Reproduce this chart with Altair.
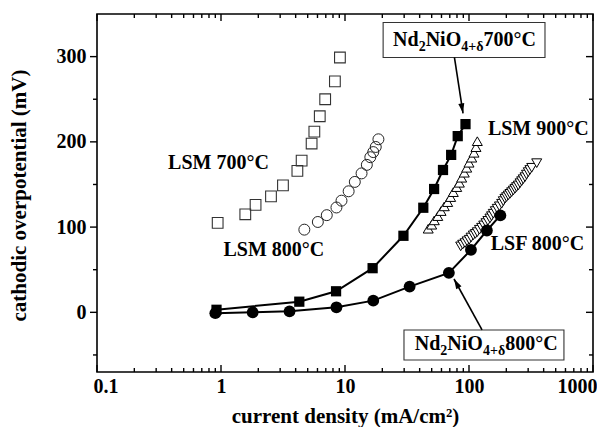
import altair as alt
import pandas as pd

# ---------------- data ----------------
lsm700_x = [0.94, 1.57, 1.90, 2.53, 3.16, 4.13, 4.47, 5.38, 5.66, 6.26, 6.92, 8.29, 9.10]
lsm700_y = [105, 115, 126, 136, 149, 166, 178, 198, 212, 230, 250, 271, 299]

lsm800_x = [4.70, 6.04, 7.13, 8.53, 9.37, 10.7, 12.0, 13.6, 15.0, 16.0, 16.9, 17.7, 18.6]
lsm800_y = [97, 106, 114, 123, 131, 142, 153, 163, 173, 182, 188, 194, 203]

nd700_x = [0.92, 4.28, 8.47, 16.7, 29.6, 42.8, 52.3, 61.7, 71.8, 81.1, 93.7]
nd700_y = [3, 12.5, 24.7, 51.8, 89.8, 122.7, 144.7, 167, 184.7, 206.7, 220.8]

nd800_x = [0.90, 1.80, 3.57, 8.53, 16.9, 33.2, 68.8, 103.7, 139.4, 179]
nd800_y = [-1, 0, 1.2, 5.9, 13.7, 30.2, 46.3, 73.3, 96, 113.7]

lsm900_x = [46.9, 50.0, 52.5, 56.0, 59.5, 63.2, 67.3, 71.1, 74.7, 79.6, 83.6, 87.3,
            91.6, 95.8, 100, 105.2, 109.7, 113.8, 116.7]
lsm900_y = [98.1, 102.8, 107.9, 112.9, 118.8, 124.3, 129.3, 135.2, 141, 146.9, 152, 157.9,
            163.8, 169.6, 175.5, 181.4, 187.2, 193.8, 200.8]

lsf800_x = [85.7, 89.0, 92.9, 96.5, 100.5, 104.0, 108.4, 112.5, 116.7, 121.5, 126.6, 131.5,
            137, 142.0, 147.6, 152.0, 157, 163.0, 169, 176.0, 183.5, 189.0, 195, 201.0,
            207.5, 214.0, 220.8, 228.0, 235, 242.0, 250, 258.0, 266, 274.0, 283, 291.0,
            300.7, 310.0, 320.6, 351.6]
lsf800_y = [77.4, 79.5, 81.2, 83.4, 85.2, 87.8, 90.3, 92.0, 94.1, 96.9, 99.3, 102.0,
            104.7, 107.3, 110.2, 112.8, 115.7, 118.8, 121.6, 124.4, 127.4, 130.5, 133.3, 135.2,
            137.2, 139.0, 141, 143.0, 145, 147.0, 148.9, 151.5, 153.9, 156.2, 158.6, 161.6,
            164.5, 167.0, 169.6, 175]

x_major = [0.1, 1, 10, 100, 1000]
x_minor = [m * d for d in [0.1, 1, 10, 100] for m in range(2, 10)]
y_major = [0, 100, 200, 300]
y_minor = [-50, 50, 150, 250]

labels_text = ["LSM 700°C", "LSM 800°C", "LSM 900°C", "LSF 800°C"]
labels_x = [0.954, 2.67, 362, 356]
labels_y = [168.2, 66.1, 208, 73.7]

# boxed labels: Nd2NiO4+δ 700°C and 800°C
box_x = [20.3, 29.9]
box_x2 = [410, 583]
box_y = [340, -20.7]
box_y2 = [299, -56]
boxtext_x = [24.4, 36.5]
boxtext_y = [313, -44.2]
boxtext_temp = ["700°C", "800°C"]

arrow_x = [76.3, 127.4]
arrow_y = [299, -20.7]
arrow_x2 = [89.5, 75.7]
arrow_y2 = [233.5, 39.1]
arrow_angle = [170, 331]

# ---------------- chart ----------------
W, H = 496, 358
FONT = "Liberation Serif"

xs = alt.Scale(type="log", domain=[0.1, 1000], nice=False)
ys = alt.Scale(domain=[-70, 350], nice=False, zero=False)

xaxis = alt.Axis(values=x_major, format="~g", ticks=False, tickSize=0, domain=False, grid=False,
                 labelPadding=4, labelFlush=True, labelFlushOffset=4,
                 titleY=50, titleBaseline="alphabetic")
yaxis = alt.Axis(values=y_major, format="d", ticks=False, tickSize=0, domain=False, grid=False,
                 labelPadding=11, titleX=-72, titleY=181, titleBaseline="alphabetic")

X = alt.X("x:Q", scale=xs, axis=xaxis, title="current density (mA/cm²)")
Y = alt.Y("y:Q", scale=ys, axis=yaxis, title="cathodic overpotential (mV)")


def df(x, y):
    return pd.DataFrame({"x": x, "y": y})


layers = []

# tick marks
def xticks(vals, length):
    d = pd.DataFrame({"x": vals})
    bottom = alt.Chart(d).mark_rule(color="black", strokeWidth=1.4).encode(
        x=X, y=alt.value(H), y2=alt.value(H - length))
    top = alt.Chart(d).mark_rule(color="black", strokeWidth=1.4).encode(
        x=X, y=alt.value(0), y2=alt.value(length))
    return [bottom, top]


def yticks(vals, length):
    d = pd.DataFrame({"y": vals})
    left = alt.Chart(d).mark_rule(color="black", strokeWidth=1.4).encode(
        y=Y, x=alt.value(-length), x2=alt.value(0))
    right = alt.Chart(d).mark_rule(color="black", strokeWidth=1.4).encode(
        y=Y, x=alt.value(W - length), x2=alt.value(W))
    return [left, right]


layers += xticks(x_major, 7) + xticks(x_minor, 4) + yticks(y_major, 7) + yticks(y_minor, 4)

# series
layers.append(alt.Chart(df(lsm700_x, lsm700_y)).mark_point(
    shape="square", filled=False, color="#333", strokeWidth=1.1, size=115, opacity=1).encode(x=X, y=Y))
layers.append(alt.Chart(df(lsm800_x, lsm800_y)).mark_point(
    shape="circle", filled=False, color="#222", strokeWidth=1.0, size=120, opacity=1).encode(x=X, y=Y))
layers.append(alt.Chart(df(lsm900_x, lsm900_y)).mark_point(
    shape="triangle-up", filled=True, fill="white", stroke="black", strokeWidth=1.0,
    size=100, opacity=1, fillOpacity=1).encode(x=X, y=Y))
layers.append(alt.Chart(df(lsf800_x, lsf800_y)).mark_point(
    shape="triangle-down", filled=True, fill="white", stroke="black", strokeWidth=1.0,
    size=100, opacity=1, fillOpacity=1).encode(x=X, y=Y))

nd700 = df(nd700_x, nd700_y)
nd800 = df(nd800_x, nd800_y)
layers.append(alt.Chart(nd700).mark_line(color="black", strokeWidth=2).encode(x=X, y=Y))
layers.append(alt.Chart(nd700).mark_point(
    shape="square", filled=True, color="black", size=105, opacity=1).encode(x=X, y=Y))
layers.append(alt.Chart(nd800).mark_line(color="black", strokeWidth=2).encode(x=X, y=Y))
layers.append(alt.Chart(nd800).mark_point(
    shape="circle", filled=True, color="black", size=140, opacity=1).encode(x=X, y=Y))

# plain labels
lab = pd.DataFrame({"x": labels_x, "y": labels_y, "t": labels_text})
layers.append(alt.Chart(lab).mark_text(
    font=FONT, fontWeight="bold", fontSize=20, color="black", align="center",
    baseline="alphabetic").encode(x=X, y=Y, text="t:N"))

# boxes
boxes = pd.DataFrame({"x": box_x, "x2": box_x2, "y": box_y, "y2": box_y2})
layers.append(alt.Chart(boxes).mark_rect(fill="white", stroke="#333", strokeWidth=1.1).encode(
    x=X, x2="x2:Q", y=Y, y2="y2:Q"))

# boxed text pieces (with subscripts)
pieces = [("Nd", 20, 0, 0), ("2", 14, 25.6, 5), ("NiO", 20, 32.6, 0), ("4+δ", 14, 68.2, 5)]
for txt, fs, dx, dy in pieces:
    d = pd.DataFrame({"x": boxtext_x, "y": boxtext_y, "t": [txt, txt]})
    layers.append(alt.Chart(d).mark_text(
        font=FONT, fontWeight="bold", fontSize=fs, color="black", align="left",
        baseline="alphabetic", dx=dx, dy=dy).encode(x=X, y=Y, text="t:N"))
d = pd.DataFrame({"x": boxtext_x, "y": boxtext_y, "t": boxtext_temp})
layers.append(alt.Chart(d).mark_text(
    font=FONT, fontWeight="bold", fontSize=20, color="black", align="left",
    baseline="alphabetic", dx=90.5).encode(x=X, y=Y, text="t:N"))

# arrows
arr = pd.DataFrame({"x": arrow_x, "y": arrow_y, "x2": arrow_x2, "y2": arrow_y2})
layers.append(alt.Chart(arr).mark_rule(color="black", strokeWidth=1.6).encode(
    x=X, y=Y, x2="x2:Q", y2="y2:Q"))
for i in range(2):
    h = pd.DataFrame({"x": [arrow_x2[i]], "y": [arrow_y2[i]]})
    layers.append(alt.Chart(h).mark_point(
        shape="M0,0L-0.6,2L0.6,2Z", filled=True, color="black", size=100, opacity=1,
        angle=arrow_angle[i]).encode(x=X, y=Y))

chart = alt.layer(*layers).properties(
    width=W, height=H,
    autosize=alt.AutoSizeParams(type="none"),
    padding={"left": 89, "top": 6, "right": 4, "bottom": 55},
    background="white",
).configure_view(stroke="black", strokeWidth=1.6).configure_axis(
    labelFont=FONT, labelFontWeight="bold", labelFontSize=20, labelColor="black",
    titleFont=FONT, titleFontWeight="bold", titleFontSize=21, titleColor="black",
)

chart.save("out.html", embed_options={"renderer": "svg", "actions": False})
